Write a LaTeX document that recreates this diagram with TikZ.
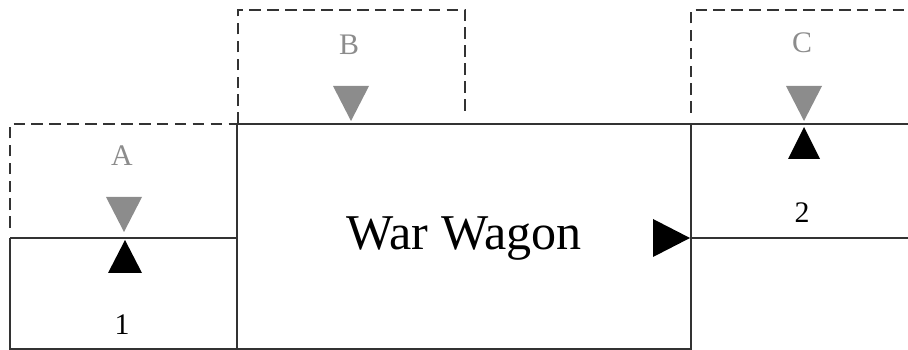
\documentclass[tikz,border=0pt]{standalone}
\usepackage{fontspec}
\setmainfont{Liberation Serif}
\usetikzlibrary{calc,positioning}
\definecolor{wwink}{HTML}{333333}
\definecolor{wwslot}{HTML}{8C8C8C}
\tikzset{
  every picture/.style={line width=0.8pt},
  frame/.style={draw=wwink},
  stub/.style={draw=wwink,dash pattern=on 6.6pt off 3.6pt},
  slot label/.style={text=wwslot,inner sep=0pt,font=\fontsize{17}{20}\selectfont},
  port label/.style={text=black,inner sep=0pt,font=\fontsize{17}{20}\selectfont},
  title label/.style={text=black,inner sep=0pt,font=\fontsize{28.5}{33}\selectfont},
  slot mark/.style={fill=wwslot},
  port mark/.style={fill=black},
}
\begin{document}
\begin{tikzpicture}[x=0.02cm,y=-0.02cm]
  \path[use as bounding box] (0,0) rectangle (908,350);
  % corners of the wagon body and its neighbours
  \coordinate (bodyNW) at (237,124);
  \coordinate (bodySE) at (691,349);
  \coordinate (aNW) at (10,124);
  \coordinate (aS) at (10,238);
  \coordinate (bNW) at (238,10);
  \coordinate (bNE) at (465,10);
  \coordinate (cNW) at (691,10);
  \coordinate (cNE) at (908,10);
  % solid frame
  \draw[frame] (aS) -- (10,349) -- (bodySE) -- (691,124);
  \draw[frame] (bodyNW) -- (237,349);
  \draw[frame] (bodyNW) -- (908,124);
  \draw[frame] (aS) -- (237,238);
  \draw[frame] (691,238) -- (908,238);
  % dashed slots above
  \draw[stub] (10,228) -- (aNW) -- (bodyNW);
  \draw[stub] (238,124) -- (bNW) -- (bNE) -- (465,117);
  \draw[stub] (691,113) -- (cNW) -- (cNE);
  % labels
  \node[slot label] (lblA) at (122,156) {A};
  \node[slot label] (lblB) at (349,45) {B};
  \node[slot label] (lblC) at (802,43) {C};
  \node[port label] (lbl1) at (122,325) {1};
  \node[port label] (lbl2) at (802,213) {2};
  \node[title label] (wagon) at (464,239) {War Wagon};
  % slot triangles (pointing down)
  \foreach \x/\y in {124/232,351/121,804/121}
    \fill[slot mark] (\x,\y) -- ++(-18,-35) -- ++(36,0) -- cycle;
  % port triangles (pointing up)
  \fill[port mark] (125,240) -- ++(-17,33) -- ++(34,0) -- cycle;
  \fill[port mark] (804,127) -- ++(-16,32) -- ++(32,0) -- cycle;
  % output triangle
  \fill[port mark] (690,238) -- ++(-37,-19) -- ++(0,38) -- cycle;
\end{tikzpicture}
\end{document}
